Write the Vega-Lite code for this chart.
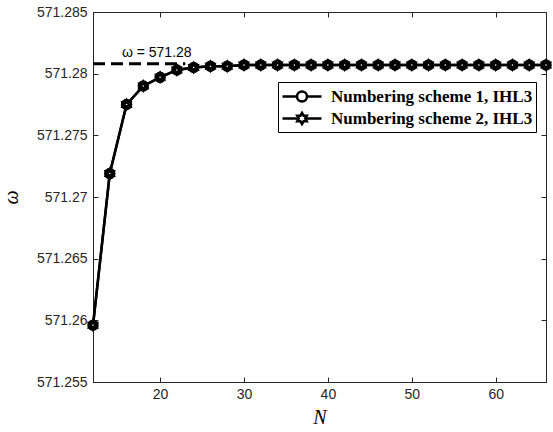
{
  "$schema": "https://vega.github.io/schema/vega-lite/v6.json",
  "width": 453,
  "height": 370,
  "autosize": {"type": "none"},
  "padding": {"left": 93, "top": 12, "right": 7, "bottom": 50},
  "background": "white",
  "config": {
    "view": {"stroke": "#262626", "strokeWidth": 1},
    "axis": {
      "grid": false,
      "labelFont": "Liberation Sans",
      "labelFontSize": 14,
      "labelColor": "#262626",
      "domainColor": "#262626",
      "tickColor": "#262626",
      "tickSize": -5,
      "titleColor": "black"
    }
  },
  "datasets": {
    "series": [
      {"N": 12, "w": 571.2596, "s": "Numbering scheme 1, IHL3"},
      {"N": 14, "w": 571.2719, "s": "Numbering scheme 1, IHL3"},
      {"N": 16, "w": 571.2775, "s": "Numbering scheme 1, IHL3"},
      {"N": 18, "w": 571.2790, "s": "Numbering scheme 1, IHL3"},
      {"N": 20, "w": 571.2797, "s": "Numbering scheme 1, IHL3"},
      {"N": 22, "w": 571.2803, "s": "Numbering scheme 1, IHL3"},
      {"N": 24, "w": 571.2805, "s": "Numbering scheme 1, IHL3"},
      {"N": 26, "w": 571.2806, "s": "Numbering scheme 1, IHL3"},
      {"N": 28, "w": 571.2806, "s": "Numbering scheme 1, IHL3"},
      {"N": 30, "w": 571.2807, "s": "Numbering scheme 1, IHL3"},
      {"N": 32, "w": 571.2807, "s": "Numbering scheme 1, IHL3"},
      {"N": 34, "w": 571.2807, "s": "Numbering scheme 1, IHL3"},
      {"N": 36, "w": 571.2807, "s": "Numbering scheme 1, IHL3"},
      {"N": 38, "w": 571.2807, "s": "Numbering scheme 1, IHL3"},
      {"N": 40, "w": 571.2807, "s": "Numbering scheme 1, IHL3"},
      {"N": 42, "w": 571.2807, "s": "Numbering scheme 1, IHL3"},
      {"N": 44, "w": 571.2807, "s": "Numbering scheme 1, IHL3"},
      {"N": 46, "w": 571.2807, "s": "Numbering scheme 1, IHL3"},
      {"N": 48, "w": 571.2807, "s": "Numbering scheme 1, IHL3"},
      {"N": 50, "w": 571.2807, "s": "Numbering scheme 1, IHL3"},
      {"N": 52, "w": 571.2807, "s": "Numbering scheme 1, IHL3"},
      {"N": 54, "w": 571.2807, "s": "Numbering scheme 1, IHL3"},
      {"N": 56, "w": 571.2807, "s": "Numbering scheme 1, IHL3"},
      {"N": 58, "w": 571.2807, "s": "Numbering scheme 1, IHL3"},
      {"N": 60, "w": 571.2807, "s": "Numbering scheme 1, IHL3"},
      {"N": 62, "w": 571.2807, "s": "Numbering scheme 1, IHL3"},
      {"N": 64, "w": 571.2807, "s": "Numbering scheme 1, IHL3"},
      {"N": 66, "w": 571.2807, "s": "Numbering scheme 1, IHL3"},
      {"N": 12, "w": 571.2596, "s": "Numbering scheme 2, IHL3"},
      {"N": 14, "w": 571.2719, "s": "Numbering scheme 2, IHL3"},
      {"N": 16, "w": 571.2775, "s": "Numbering scheme 2, IHL3"},
      {"N": 18, "w": 571.2790, "s": "Numbering scheme 2, IHL3"},
      {"N": 20, "w": 571.2797, "s": "Numbering scheme 2, IHL3"},
      {"N": 22, "w": 571.2803, "s": "Numbering scheme 2, IHL3"},
      {"N": 24, "w": 571.2805, "s": "Numbering scheme 2, IHL3"},
      {"N": 26, "w": 571.2806, "s": "Numbering scheme 2, IHL3"},
      {"N": 28, "w": 571.2806, "s": "Numbering scheme 2, IHL3"},
      {"N": 30, "w": 571.2807, "s": "Numbering scheme 2, IHL3"},
      {"N": 32, "w": 571.2807, "s": "Numbering scheme 2, IHL3"},
      {"N": 34, "w": 571.2807, "s": "Numbering scheme 2, IHL3"},
      {"N": 36, "w": 571.2807, "s": "Numbering scheme 2, IHL3"},
      {"N": 38, "w": 571.2807, "s": "Numbering scheme 2, IHL3"},
      {"N": 40, "w": 571.2807, "s": "Numbering scheme 2, IHL3"},
      {"N": 42, "w": 571.2807, "s": "Numbering scheme 2, IHL3"},
      {"N": 44, "w": 571.2807, "s": "Numbering scheme 2, IHL3"},
      {"N": 46, "w": 571.2807, "s": "Numbering scheme 2, IHL3"},
      {"N": 48, "w": 571.2807, "s": "Numbering scheme 2, IHL3"},
      {"N": 50, "w": 571.2807, "s": "Numbering scheme 2, IHL3"},
      {"N": 52, "w": 571.2807, "s": "Numbering scheme 2, IHL3"},
      {"N": 54, "w": 571.2807, "s": "Numbering scheme 2, IHL3"},
      {"N": 56, "w": 571.2807, "s": "Numbering scheme 2, IHL3"},
      {"N": 58, "w": 571.2807, "s": "Numbering scheme 2, IHL3"},
      {"N": 60, "w": 571.2807, "s": "Numbering scheme 2, IHL3"},
      {"N": 62, "w": 571.2807, "s": "Numbering scheme 2, IHL3"},
      {"N": 64, "w": 571.2807, "s": "Numbering scheme 2, IHL3"},
      {"N": 66, "w": 571.2807, "s": "Numbering scheme 2, IHL3"}
    ],
    "ref": [
      {"N": 12, "w": 571.2808},
      {"N": 23, "w": 571.2808}
    ],
    "lbl": [
      {"N": 19.6, "w": 571.2817, "label": "ω = 571.28"}
    ]
  },
  "resolve": {"axis": {"x": "independent", "y": "independent"}, "scale": {"shape": "independent"}},
  "layer": [
    {
      "data": {"name": "ref"},
      "mark": {"type": "line", "color": "black", "strokeWidth": 3, "strokeDash": [12, 6]},
      "encoding": {
        "x": {"field": "N", "type": "quantitative", "scale": {"domain": [12, 66], "nice": false, "zero": false},
              "axis": {"orient": "top", "labels": false, "domain": false, "title": null, "values": [20, 30, 40, 50, 60]}},
        "y": {"field": "w", "type": "quantitative", "scale": {"domain": [571.255, 571.285], "nice": false, "zero": false},
              "axis": {"orient": "right", "labels": false, "domain": false, "title": null, "values": [571.255, 571.26, 571.265, 571.27, 571.275, 571.28, 571.285]}}
      }
    },
    {
      "data": {"name": "series"},
      "mark": {"type": "line", "color": "black", "strokeWidth": 2.5},
      "encoding": {
        "x": {"field": "N", "type": "quantitative", "scale": {"domain": [12, 66], "nice": false, "zero": false},
              "axis": {"orient": "bottom", "values": [20, 30, 40, 50, 60], "title": "N", "titleFont": "Liberation Serif", "titleFontStyle": "italic", "titleFontWeight": "normal", "titleFontSize": 20, "titlePadding": 6, "labelPadding": 10}},
        "y": {"field": "w", "type": "quantitative", "scale": {"domain": [571.255, 571.285], "nice": false, "zero": false},
              "axis": {"orient": "left", "values": [571.255, 571.26, 571.265, 571.27, 571.275, 571.28, 571.285], "format": "~g", "title": "ω", "titleFont": "Liberation Serif", "titleFontStyle": "italic", "titleFontWeight": "normal", "titleFontSize": 20, "titlePadding": 15, "labelPadding": 11}},
        "detail": {"field": "s"}
      }
    },
    {
      "data": {"name": "series"},
      "mark": {"type": "point", "filled": false, "stroke": "black", "color": "black", "strokeWidth": 2.5, "size": 1, "opacity": 1},
      "encoding": {
        "x": {"field": "N", "type": "quantitative", "scale": {"domain": [12, 66], "nice": false, "zero": false}, "axis": null},
        "y": {"field": "w", "type": "quantitative", "scale": {"domain": [571.255, 571.285], "nice": false, "zero": false}, "axis": null},
        "shape": {
          "field": "s", "type": "nominal",
          "scale": {"domain": ["Numbering scheme 1, IHL3", "Numbering scheme 2, IHL3"],
                    "range": ["M-1,0L0.45,0M1.45,0L2.9,0M1.45,0A0.5,0.5,0,1,1,0.45,0A0.5,0.5,0,1,1,1.45,0Z",
                              "M-1,0L0.6325,0M1.2675,0L2.9,0M0.95,-0.55L1.109,-0.275L1.426,-0.275L1.2675,0L1.426,0.275L1.109,0.275L0.95,0.55L0.791,0.275L0.474,0.275L0.6325,0L0.474,-0.275L0.791,-0.275Z"]},
          "legend": {
            "title": null,
            "orient": "none",
            "legendX": 185,
            "legendY": 70,
            "padding": 3,
            "strokeColor": "black",
            "fillColor": "white",
            "labelFont": "Liberation Serif",
            "labelFontWeight": "bold",
            "labelFontSize": 17,
            "labelColor": "black",
            "labelLimit": 400,
            "labelOffset": 27,
            "symbolSize": 400,
            "symbolStrokeWidth": 2.5,
            "symbolStrokeColor": "black",
            "symbolFillColor": "white",
            "symbolOpacity": 1,
            "rowPadding": 0
          }
        }
      }
    },
    {
      "data": {"name": "series"},
      "transform": [{"filter": "datum.s == 'Numbering scheme 1, IHL3'"}],
      "mark": {"type": "point", "shape": "circle", "filled": true, "fill": "white", "stroke": "black", "strokeWidth": 3.5, "size": 64, "opacity": 1},
      "encoding": {
        "x": {"field": "N", "type": "quantitative", "scale": {"domain": [12, 66], "nice": false, "zero": false}, "axis": null},
        "y": {"field": "w", "type": "quantitative", "scale": {"domain": [571.255, 571.285], "nice": false, "zero": false}, "axis": null}
      }
    },
    {
      "data": {"name": "series"},
      "transform": [{"filter": "datum.s == 'Numbering scheme 2, IHL3'"}],
      "mark": {"type": "point", "shape": "M0,-1L0.2887,-0.5L0.866,-0.5L0.577,0L0.866,0.5L0.2887,0.5L0,1L-0.2887,0.5L-0.866,0.5L-0.577,0L-0.866,-0.5L-0.2887,-0.5Z", "filled": true, "fill": "white", "stroke": "black", "strokeWidth": 3, "size": 64, "opacity": 1},
      "encoding": {
        "x": {"field": "N", "type": "quantitative", "scale": {"domain": [12, 66], "nice": false, "zero": false}, "axis": null},
        "y": {"field": "w", "type": "quantitative", "scale": {"domain": [571.255, 571.285], "nice": false, "zero": false}, "axis": null}
      }
    },
    {
      "data": {"name": "lbl"},
      "mark": {"type": "text", "font": "Liberation Sans", "fontSize": 14, "color": "black", "align": "center", "baseline": "middle"},
      "encoding": {
        "x": {"field": "N", "type": "quantitative", "scale": {"domain": [12, 66], "nice": false, "zero": false}, "axis": null},
        "y": {"field": "w", "type": "quantitative", "scale": {"domain": [571.255, 571.285], "nice": false, "zero": false}, "axis": null},
        "text": {"field": "label"}
      }
    }
  ]
}
